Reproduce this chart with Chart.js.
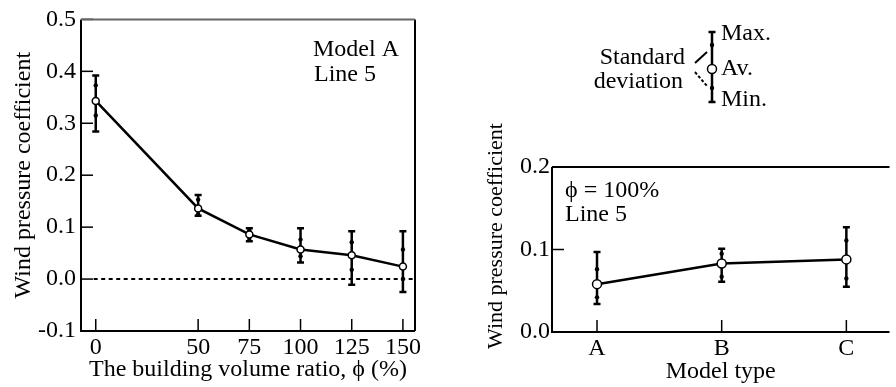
<!DOCTYPE html>
<html>
<head>
<meta charset="utf-8">
<script src="https://cdn.jsdelivr.net/npm/chart.js@4.4.0/dist/chart.umd.min.js"></script>
<style>
  html, body { margin: 0; padding: 0; background: #fff; }
  #wrap { position: relative; width: 896px; height: 387px; }
  .box { position: absolute; top: 0; width: 448px; height: 387px; }
</style>
</head>
<body>
<div id="wrap">
  <div class="box" style="left:0"><canvas id="ratioChart"></canvas></div>
  <div class="box" style="left:448px"><canvas id="modelChart"></canvas></div>
</div>
<script>
// Model A, Line 5 : wind pressure coefficient vs building volume ratio
const ratioX = [0, 50, 75, 100, 125, 150];
const ratioAv = [0.343, 0.136, 0.086, 0.057, 0.046, 0.024];
const ratioMax = [0.392, 0.162, 0.098, 0.098, 0.092, 0.092];
const ratioMin = [0.284, 0.122, 0.073, 0.032, -0.011, -0.025];
const ratioSdHi = [0.373, 0.153, 0.094, 0.076, 0.071, 0.057];
const ratioSdLo = [0.315, 0.125, 0.077, 0.044, 0.018, 0.000];
const ratioTicks = [0, 50, 75, 100, 125, 150];
const baselineX = [-1, 156];
const baselineY = [0, 0];

// phi = 100%, Line 5 : by model type
const models = ["A", "B", "C"];
const modelAv = [0.058, 0.083, 0.088];
const modelMax = [0.097, 0.101, 0.127];
const modelMin = [0.034, 0.061, 0.055];
const modelSdHi = [0.076, 0.095, 0.111];
const modelSdLo = [0.042, 0.067, 0.065];

const ink = "#000";
const serif = "'Liberation Serif', 'Times New Roman', serif";
Chart.defaults.font.family = serif;
Chart.defaults.font.size = 24;
Chart.defaults.color = ink;

const fmt = v => (Math.abs(v) < 1e-9 ? 0 : v).toFixed(1);

// average line + std dots + caps + min/max bars
function errorSets(xs, av, mx, mn, hi, lo, r) {
  const bars = [];
  xs.forEach((x, i) => { bars.push({ x, y: mn[i] }, { x, y: mx[i] }, { x, y: null }); });
  return [
    {
      data: xs.map((x, i) => ({ x, y: av[i] })),
      borderColor: ink, borderWidth: 2.5, tension: 0,
      pointRadius: r, pointBackgroundColor: "#fff", pointBorderColor: ink, pointBorderWidth: 1.5
    },
    {
      data: xs.flatMap((x, i) => [{ x, y: hi[i] }, { x, y: lo[i] }]),
      showLine: false, pointRadius: 2.2, pointBackgroundColor: ink, pointBorderWidth: 0
    },
    {
      data: xs.flatMap((x, i) => [{ x, y: mx[i] }, { x, y: mn[i] }]),
      showLine: false, pointStyle: "line", pointRadius: 3.5, pointBorderColor: ink, pointBorderWidth: 2.5
    },
    { data: bars, borderColor: ink, borderWidth: 2.5, pointRadius: 0, spanGaps: false }
  ];
}

// box round the plot and short ticks pointing inwards
const paperFrame = {
  id: "paperFrame",
  afterDraw(chart, args, opts) {
    const { ctx, chartArea: a, scales } = chart;
    ctx.save();
    ctx.strokeStyle = ink;
    ctx.lineWidth = 1.5;
    scales.x.ticks.forEach(t => {
      const px = scales.x.getPixelForValue(t.value);
      ctx.beginPath(); ctx.moveTo(px, a.bottom); ctx.lineTo(px, a.bottom - 12); ctx.stroke();
    });
    scales.y.ticks.forEach(t => {
      const py = scales.y.getPixelForValue(t.value);
      ctx.beginPath(); ctx.moveTo(a.left, py); ctx.lineTo(a.left + 12, py); ctx.stroke();
    });
    ctx.lineWidth = 2;
    ctx.beginPath();
    ctx.moveTo(a.left, a.top); ctx.lineTo(a.left, a.bottom); ctx.lineTo(a.right, a.bottom);
    if (opts.right) { ctx.moveTo(a.right, a.bottom); ctx.lineTo(a.right, a.top); }
    ctx.stroke();
    ctx.strokeStyle = opts.topColor || ink;
    ctx.beginPath(); ctx.moveTo(a.left, a.top); ctx.lineTo(a.right, a.top); ctx.stroke();
    // notes inside the plot
    ctx.fillStyle = ink;
    ctx.font = "24px " + serif;
    ctx.textBaseline = "middle";
    (opts.notes || []).forEach(n => ctx.fillText(n.text, a.left + n.dx, a.top + n.dy));
    // y title placed by hand when it must sit off the axis centre
    if (opts.yTitle) {
      ctx.font = opts.yTitle.size + "px " + serif;
      ctx.textAlign = "center";
      ctx.translate(opts.yTitle.x, opts.yTitle.y);
      ctx.rotate(-Math.PI / 2);
      ctx.fillText(opts.yTitle.text, 0, 0);
    }
    ctx.restore();
  }
};

// key for the error bars (Max. / Av. / Min., standard deviation)
const stdKey = {
  id: "stdKey",
  afterDraw(chart) {
    const ctx = chart.ctx;
    const cx = 264;
    ctx.save();
    ctx.strokeStyle = ink; ctx.fillStyle = ink;
    ctx.lineWidth = 2.5;
    ctx.beginPath(); ctx.moveTo(cx, 32); ctx.lineTo(cx, 102); ctx.stroke();
    ctx.beginPath(); ctx.moveTo(cx - 3.5, 32); ctx.lineTo(cx + 3.5, 32);
    ctx.moveTo(cx - 3.5, 102); ctx.lineTo(cx + 3.5, 102); ctx.stroke();
    [45, 88].forEach(y => { ctx.beginPath(); ctx.arc(cx, y, 2.2, 0, Math.PI * 2); ctx.fill(); });
    ctx.lineWidth = 1.5;
    ctx.beginPath(); ctx.arc(cx, 69, 4.5, 0, Math.PI * 2); ctx.fillStyle = "#fff"; ctx.fill(); ctx.stroke();
    ctx.lineWidth = 2;
    ctx.beginPath(); ctx.moveTo(247, 63); ctx.lineTo(259, 52); ctx.stroke();
    ctx.setLineDash([3, 2]);
    ctx.beginPath(); ctx.moveTo(247, 72); ctx.lineTo(259, 86); ctx.stroke();
    ctx.setLineDash([]);
    ctx.fillStyle = ink;
    ctx.font = "24px " + serif;
    ctx.textBaseline = "middle";
    ctx.textAlign = "left";
    ctx.fillText("Max.", 273, 34);
    ctx.fillText("Av.", 273, 69);
    ctx.fillText("Min.", 273, 100);
    ctx.textAlign = "right";
    ctx.fillText("Standard", 237, 58);
    ctx.fillText("deviation", 235, 82);
    ctx.restore();
  }
};

const ratioChart = new Chart(document.getElementById("ratioChart"), {
  type: "line",
  data: {
    datasets: errorSets(ratioX, ratioAv, ratioMax, ratioMin, ratioSdHi, ratioSdLo, 3.5).concat([{
      data: baselineX.map((x, i) => ({ x, y: baselineY[i] })),
      borderColor: ink, borderWidth: 2, borderDash: [4, 3.5], pointRadius: 0
    }])
  },
  options: {
    responsive: true,
    maintainAspectRatio: false,
    animation: false,
    layout: { padding: { left: 0, top: 15, right: 33, bottom: 0 } },
    scales: {
      x: {
        type: "linear", min: -7.2, max: 155.9,
        afterBuildTicks: axis => { axis.ticks = ratioTicks.map(v => ({ value: v })); },
        afterFit: axis => { axis.height = 56; },
        grid: { display: false, drawTicks: false },
        border: { display: false },
        ticks: { padding: 2, maxRotation: 0, autoSkip: false },
        title: { display: true, text: "The building volume ratio, \u03d5 (%)", padding: { top: 0, bottom: 3 } }
      },
      y: {
        min: -0.1, max: 0.5,
        afterFit: axis => { axis.width = 81; },
        grid: { display: false, drawTicks: false },
        border: { display: false },
        ticks: { stepSize: 0.1, padding: 5, callback: fmt },
        title: { display: true, text: "Wind pressure coefficient", padding: { top: 9, bottom: 0 } }
      }
    },
    plugins: {
      legend: { display: false },
      tooltip: { enabled: false },
      paperFrame: {
        right: true, topColor: "#666",
        notes: [{ text: "Model A", dx: 232, dy: 30 }, { text: "Line 5", dx: 233, dy: 55 }]
      }
    }
  },
  plugins: [paperFrame]
});

const modelChart = new Chart(document.getElementById("modelChart"), {
  type: "line",
  data: {
    datasets: errorSets(models.map((m, i) => i), modelAv, modelMax, modelMin, modelSdHi, modelSdLo, 4.5)
  },
  options: {
    responsive: true,
    maintainAspectRatio: false,
    animation: false,
    layout: { padding: { left: 0, top: 167, right: 0, bottom: 0 } },
    scales: {
      x: {
        type: "linear", min: -0.361, max: 2.346,
        afterBuildTicks: axis => { axis.ticks = models.map((m, i) => ({ value: i })); },
        afterFit: axis => { axis.height = 55; },
        grid: { display: false, drawTicks: false },
        border: { display: false },
        ticks: { padding: 2, maxRotation: 0, autoSkip: false, callback: v => models[v] },
        title: { display: true, text: "Model type", padding: { top: 0, bottom: 1 } }
      },
      y: {
        min: 0, max: 0.2,
        afterFit: axis => { axis.width = 104; },
        grid: { display: false, drawTicks: false },
        border: { display: false },
        ticks: { stepSize: 0.1, padding: 2, callback: fmt },
        title: { display: false }
      }
    },
    plugins: {
      legend: { display: false },
      tooltip: { enabled: false },
      paperFrame: {
        right: false,
        notes: [{ text: "\u03d5 = 100%", dx: 13, dy: 24 }, { text: "Line 5", dx: 13, dy: 48 }],
        yTitle: { text: "Wind pressure coefficient", size: 22, x: 48, y: 236 }
      }
    }
  },
  plugins: [paperFrame, stdKey]
});
</script>
</body>
</html>
